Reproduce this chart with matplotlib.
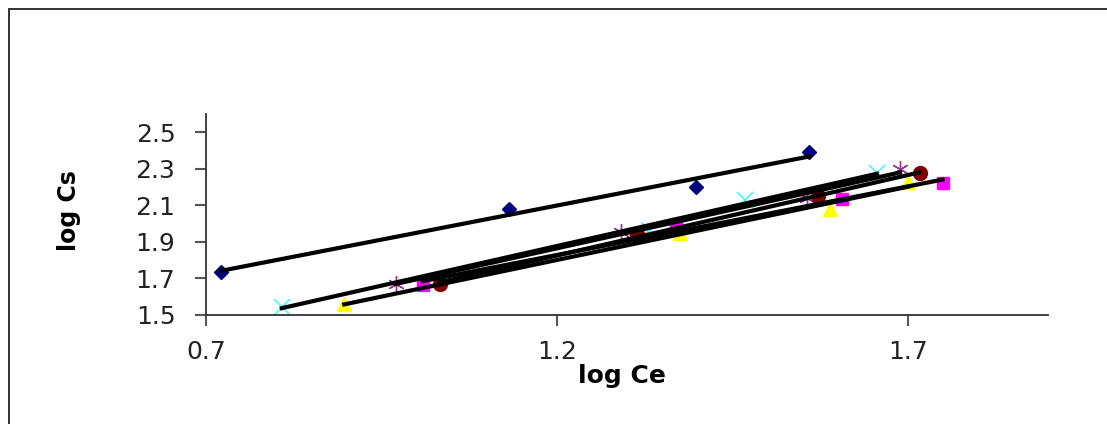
import numpy as np
from matplotlib import pyplot as plt
from matplotlib.patches import Rectangle

plt.rcParams['font.family'] = ['DejaVu Sans']

# log Ce / log Cs for each isotherm series
x1 = [0.721, 1.132, 1.399, 1.559]
y1 = [1.735, 2.079, 2.199, 2.391]
x2 = [1.009, 1.370, 1.607, 1.750]
y2 = [1.664, 1.997, 2.134, 2.221]
x3 = [0.897, 1.375, 1.589, 1.700]
y3 = [1.560, 1.948, 2.079, 2.227]
x4 = [0.808, 1.332, 1.468, 1.656]
y4 = [1.544, 1.964, 2.128, 2.276]
x5 = [0.971, 1.291, 1.557, 1.689]
y5 = [1.669, 1.954, 2.139, 2.298]
x6 = [1.033, 1.314, 1.572, 1.717]
y6 = [1.669, 1.943, 2.150, 2.276]

xticks = [0.7, 1.2, 1.7]
yticks = [1.5, 1.7, 1.9, 2.1, 2.3, 2.5]

series = [
    (x1, y1, dict(marker='D', color='#000080', markersize=7.5, linestyle='None')),
    (x2, y2, dict(marker='s', color='#ff00ff', markersize=9, linestyle='None')),
    (x3, y3, dict(marker='^', color='#ffff00', markersize=10, linestyle='None')),
    (x4, y4, dict(marker='x', color='#33ffff', markersize=12, mew=1.1, linestyle='None')),
    (x5, y5, dict(marker=(6, 2, 0), color='#993399', markersize=12, mew=1.0, linestyle='None')),
    (x6, y6, dict(marker='o', color='#800000', markersize=10, linestyle='None')),
]

fig = plt.figure(figsize=(11.07, 4.24), dpi=100)
fig.patches.append(Rectangle((9 / 1107, -0.1), 1.2, (424 - 9) / 424 + 0.1,
                             transform=fig.transFigure, fill=False,
                             edgecolor='#222222', linewidth=1.3))

ax = fig.add_axes([206 / 1107, 109 / 424, (1048 - 206) / 1107, (315 - 114) / 424])

for x, y, style in series:
    ax.plot(x, y, **style, zorder=2)
for x, y, style in series:
    k, b = np.polyfit(x, y, 1)
    xs = np.array([min(x), max(x)])
    ax.plot(xs, k * xs + b, color='black', linewidth=3, zorder=3)

ax.set_xlim(0.7, 1.9)
ax.set_ylim(1.5, 2.6)
ax.set_xticks(xticks)
ax.set_yticks(yticks)
ax.set_xticklabels([str(t) for t in xticks])
ax.set_yticklabels([str(t) for t in yticks])
ax.tick_params(direction='out', length=8, width=1.5, color='#555555',
               labelsize=18, labelcolor='#222222')
ax.tick_params(axis='y', pad=14)
ax.tick_params(axis='x', pad=10)
for s in ['top', 'right']:
    ax.spines[s].set_visible(False)
for s in ['left', 'bottom']:
    ax.spines[s].set_color('#333333')
    ax.spines[s].set_linewidth(1.3)

ax.set_xlabel('log Ce', fontsize=18, fontweight='bold')
ax.set_ylabel('log Cs', fontsize=17, fontweight='bold')
ax.xaxis.set_label_coords(0.494, -0.245)
ax.yaxis.set_label_coords(-0.148, 0.52)

fig.savefig('out.png', dpi=100)
